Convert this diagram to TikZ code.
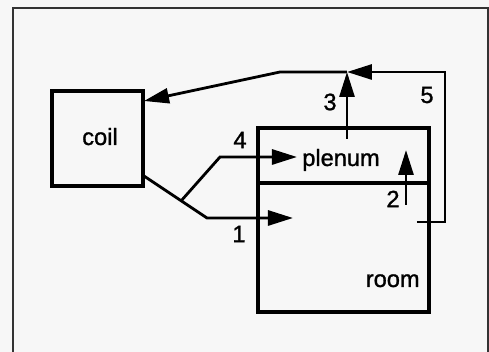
\documentclass[tikz,border=0pt]{standalone}
\usepackage{fontspec}
\setmainfont{Liberation Sans}
\newfontfamily\heavyfont{Liberation Sans}[FakeBold=1.2]
\usetikzlibrary{arrows.meta}
\begin{document}
\begin{tikzpicture}[x=0.5pt,y=-0.5pt,
  box/.style={draw, line width=1.8pt, inner sep=0pt},
  flow/.style={line width=1.4pt, -{Triangle[length=12.5pt,width=7.5pt]}},
  lbl/.style={font=\heavyfont\fontsize{11.8}{12}\selectfont, inner sep=0pt},
]
\fill[gray!6] (0,0) rectangle (489,352);
\useasboundingbox (0,0) rectangle (489,352);
\draw[line width=1pt, black!80] (13,352) -- (13,8) -- (488,8) -- (488,352);
% boxes
\node[box, minimum width=45.5pt, minimum height=47.5pt] (coil) at (97.5,138.5) {};
\node[box, minimum width=85.5pt, minimum height=27.5pt] (plenumbox) at (343.5,155.5) {};
\node[box, minimum width=85.5pt, minimum height=64.5pt] (roombox) at (343.5,247.5) {};
% texts
\node[lbl, anchor=base] (tcoil) at (100,145) {coil};
\node[lbl, anchor=base] (tplenum) at (341,166) {plenum};
\node[lbl, anchor=base east] (troom) at (420,287) {room};
% coordinates
\coordinate (s5) at (417,222);
\coordinate (r5) at (445,222);
\coordinate (t5) at (445,72);
\coordinate (j3) at (347,72);
\coordinate (k5) at (280,72);
\coordinate (c5) at (144,101);
\coordinate (b3) at (347,139);
\coordinate (b2) at (406,205);
\coordinate (t2) at (406,150);
\coordinate (c1) at (144,176);
\coordinate (j1) at (207,218);
\coordinate (t1) at (293,218);
\coordinate (b4) at (181,201);
\coordinate (e4) at (220,157);
\coordinate (t4) at (297,157);
% connectors
\draw[flow] (s5) -- (r5) -- (t5) -- (j3);
\draw[flow] (j3) -- (k5) -- (c5);
\draw[flow] (b3) -- (j3);
\draw[flow] (b2) -- (t2);
\draw[flow] (c1) -- (j1) -- (t1);
\draw[flow] (b4) -- (e4) -- (t4);
% labels
\node[lbl] (l1) at (239,234) {1};
\node[lbl] (l2) at (393,199) {2};
\node[lbl] (l3) at (330,102) {3};
\node[lbl] (l4) at (240,140) {4};
\node[lbl] (l5) at (427,95) {5};
\end{tikzpicture}
\end{document}
